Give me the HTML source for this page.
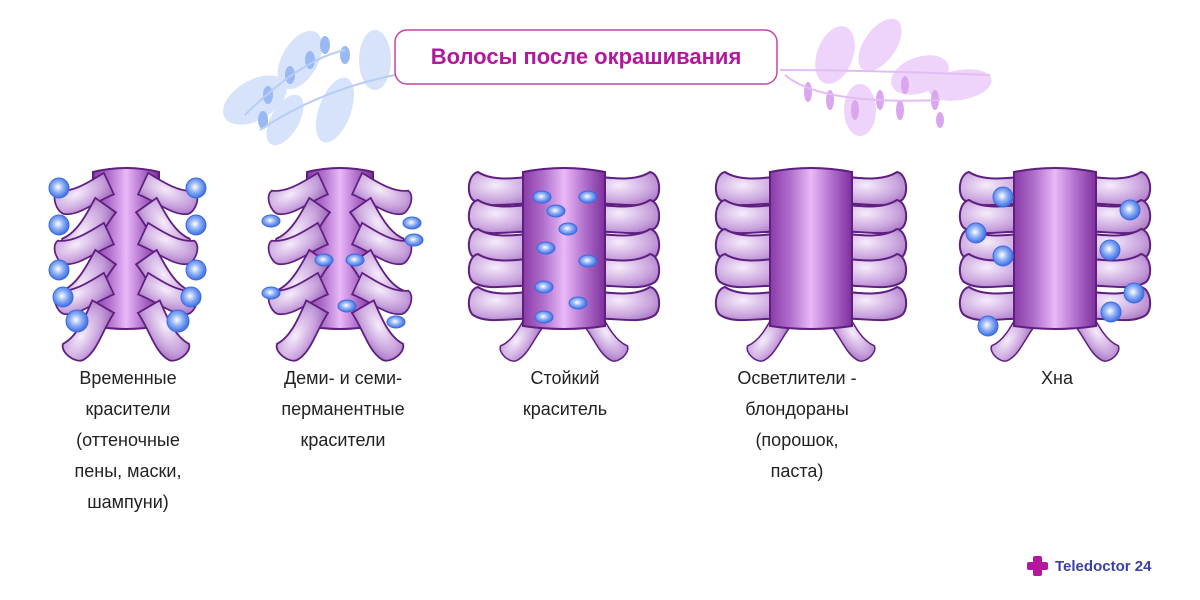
<!DOCTYPE html>
<html><head><meta charset="utf-8"><style>
body{margin:0;background:#fff;}
svg{display:block}
text{font-family:"Liberation Sans",sans-serif}
</style></head><body>
<svg width="1200" height="600" viewBox="0 0 1200 600" xmlns="http://www.w3.org/2000/svg">
<defs>
<linearGradient id="cyl" x1="0" x2="1" y1="0" y2="0">
<stop offset="0" stop-color="#8a3aa8"/><stop offset="0.25" stop-color="#b070cc"/><stop offset="0.5" stop-color="#eab8f8"/><stop offset="0.75" stop-color="#b070cc"/><stop offset="1" stop-color="#7e2f9c"/></linearGradient>
<radialGradient id="sc" cx="0.4" cy="0.4" r="0.8"><stop offset="0" stop-color="#f6ecfb"/><stop offset="0.6" stop-color="#c9a3dd"/><stop offset="1" stop-color="#9a66b8"/></radialGradient>
<radialGradient id="ball" cx="0.45" cy="0.45" r="0.6"><stop offset="0" stop-color="#ffffff"/><stop offset="0.45" stop-color="#8fb0f5"/><stop offset="1" stop-color="#2f63e0"/></radialGradient>
<path id="s" d="M8,-12 C-10,-10 -35,-6 -50,-16 C-60,-14 -62,6 -55,12 C-40,22 -15,14 8,16 Z" fill="url(#sc)" stroke="#5e1f80" stroke-width="2"/>
<path id="sr" d="M-8,-12 C10,-10 35,-6 50,-16 C60,-14 62,6 55,12 C40,22 15,14 -8,16 Z" fill="url(#sc)" stroke="#5e1f80" stroke-width="2"/>
<g id="cy"><path d="M-41,172 Q0,164 41,172 L41,326 Q0,332 -41,326 Z" fill="url(#cyl)" stroke="#5e1f80" stroke-width="2"/></g>
<g id="cyn"><path d="M-33,172 Q0,164 33,172 L33,326 Q0,332 -33,326 Z" fill="url(#cyl)" stroke="#5e1f80" stroke-width="2"/></g>
<g id="open">
<use href="#s" x="-36" y="188"/><use href="#s" x="-36" y="216"/><use href="#s" x="-36" y="245"/><use href="#s" x="-36" y="270"/><use href="#s" x="-36" y="303"/>
<use href="#s" transform="translate(-32,322) rotate(-55) scale(0.75)"/>
<use href="#sr" x="36" y="188"/><use href="#sr" x="36" y="216"/><use href="#sr" x="36" y="245"/><use href="#sr" x="36" y="270"/><use href="#sr" x="36" y="303"/>
<use href="#sr" transform="translate(32,322) rotate(55) scale(0.75)"/>
<use href="#cy"/>
</g>
<g id="closed">
<use href="#cyn"/>
<use href="#s" transform="translate(-24,185) rotate(-25) scale(0.85)"/><use href="#s" transform="translate(-26,210) rotate(-55) scale(0.9)"/>
<use href="#s" transform="translate(-24,235) rotate(-25) scale(0.85)"/><use href="#s" transform="translate(-26,262) rotate(-55) scale(0.9)"/>
<use href="#s" transform="translate(-24,285) rotate(-25) scale(0.85)"/><use href="#s" transform="translate(-28,312) rotate(-60) scale(0.9)"/>
<use href="#sr" transform="translate(24,185) rotate(25) scale(0.85)"/><use href="#sr" transform="translate(26,210) rotate(55) scale(0.9)"/>
<use href="#sr" transform="translate(24,235) rotate(25) scale(0.85)"/><use href="#sr" transform="translate(26,262) rotate(55) scale(0.9)"/>
<use href="#sr" transform="translate(24,285) rotate(25) scale(0.85)"/><use href="#sr" transform="translate(28,312) rotate(60) scale(0.9)"/>
</g>
</defs>

<g fill="#d6e3fb">
<ellipse cx="255" cy="100" rx="35" ry="20" transform="rotate(-30 255 100)"/>
<ellipse cx="300" cy="60" rx="32" ry="18" transform="rotate(-60 300 60)"/>
<ellipse cx="335" cy="110" rx="16" ry="34" transform="rotate(20 335 110)"/>
<ellipse cx="375" cy="60" rx="16" ry="30"/>
<ellipse cx="285" cy="120" rx="14" ry="28" transform="rotate(30 285 120)"/>
</g>
<g fill="#9ab8f2"><ellipse cx="268" cy="95" rx="5" ry="9"/><ellipse cx="290" cy="75" rx="5" ry="9"/><ellipse cx="310" cy="60" rx="5" ry="9"/><ellipse cx="325" cy="45" rx="5" ry="9"/><ellipse cx="345" cy="55" rx="5" ry="9"/><ellipse cx="263" cy="120" rx="5" ry="9"/></g>
<path d="M245,115 Q300,60 345,50 M260,130 Q320,90 395,75" stroke="#b8cdf6" stroke-width="2" fill="none"/>
<g fill="#eed4fb">
<ellipse cx="835" cy="55" rx="18" ry="30" transform="rotate(20 835 55)"/>
<ellipse cx="880" cy="45" rx="16" ry="30" transform="rotate(35 880 45)"/>
<ellipse cx="920" cy="75" rx="30" ry="18" transform="rotate(-20 920 75)"/>
<ellipse cx="960" cy="85" rx="32" ry="15" transform="rotate(-10 960 85)"/>
<ellipse cx="860" cy="110" rx="16" ry="26"/>
</g>
<g fill="#d9a6ef"><ellipse cx="808" cy="92" rx="4" ry="10"/><ellipse cx="830" cy="100" rx="4" ry="10"/><ellipse cx="855" cy="110" rx="4" ry="10"/><ellipse cx="880" cy="100" rx="4" ry="10"/><ellipse cx="900" cy="110" rx="4" ry="10"/><ellipse cx="935" cy="100" rx="4" ry="10"/><ellipse cx="940" cy="120" rx="4" ry="8"/><ellipse cx="905" cy="85" rx="4" ry="9"/></g>
<path d="M785,75 Q820,105 940,100 M780,70 Q860,70 990,75" stroke="#e3bcf5" stroke-width="2" fill="none"/>

<rect x="395" y="30" width="382" height="54" rx="12" fill="#fff" stroke="#c445a6" stroke-width="1.5"/>
<text x="586" y="64" text-anchor="middle" font-size="22" font-weight="bold" fill="#b3179c">Волосы после окрашивания</text>

<use href="#closed" transform="translate(126,0)"/>
<use href="#closed" transform="translate(340,0)"/>
<use href="#open" transform="translate(564,0)"/>
<use href="#open" transform="translate(811,0)"/>
<use href="#open" transform="translate(1055,0)"/>

<g fill="url(#ball)" stroke="#3a6ae0" stroke-width="1">
<circle cx="59" cy="188" r="10"/><circle cx="59" cy="225" r="10"/><circle cx="59" cy="270" r="10"/><circle cx="63" cy="297" r="10"/><circle cx="77" cy="321" r="11"/>
<circle cx="196" cy="188" r="10"/><circle cx="196" cy="225" r="10"/><circle cx="196" cy="270" r="10"/><circle cx="191" cy="297" r="10"/><circle cx="178" cy="321" r="11"/>
<ellipse cx="271" cy="221" rx="9" ry="6"/><ellipse cx="324" cy="260" rx="9" ry="6"/><ellipse cx="355" cy="260" rx="9" ry="6"/><ellipse cx="347" cy="306" rx="9" ry="6"/><ellipse cx="271" cy="293" rx="9" ry="6"/><ellipse cx="412" cy="223" rx="9" ry="6"/><ellipse cx="414" cy="240" rx="9" ry="6"/><ellipse cx="396" cy="322" rx="9" ry="6"/>
<ellipse cx="542" cy="197" rx="9" ry="6"/><ellipse cx="588" cy="197" rx="9" ry="6"/><ellipse cx="556" cy="211" rx="9" ry="6"/><ellipse cx="568" cy="229" rx="9" ry="6"/><ellipse cx="546" cy="248" rx="9" ry="6"/><ellipse cx="588" cy="261" rx="9" ry="6"/><ellipse cx="544" cy="287" rx="9" ry="6"/><ellipse cx="578" cy="303" rx="9" ry="6"/><ellipse cx="544" cy="317" rx="9" ry="6"/>
<circle cx="1003" cy="197" r="10"/><circle cx="976" cy="233" r="10"/><circle cx="1003" cy="256" r="10"/><circle cx="988" cy="326" r="10"/><circle cx="1130" cy="210" r="10"/><circle cx="1110" cy="250" r="10"/><circle cx="1134" cy="293" r="10"/><circle cx="1111" cy="312" r="10"/>
</g>

<g font-size="18" fill="#222" text-anchor="middle">
<text x="128" y="384">Временные</text><text x="128" y="415">красители</text><text x="128" y="446">(оттеночные</text><text x="128" y="477">пены, маски,</text><text x="128" y="508">шампуни)</text>
<text x="343" y="384">Деми- и семи-</text><text x="343" y="415">перманентные</text><text x="343" y="446">красители</text>
<text x="565" y="384">Стойкий</text><text x="565" y="415">краситель</text>
<text x="797" y="384">Осветлители -</text><text x="797" y="415">блондораны</text><text x="797" y="446">(порошок,</text><text x="797" y="477">паста)</text>
<text x="1057" y="384">Хна</text>
</g>

<g fill="#b3179c"><rect x="1033" y="556" width="9" height="20" rx="2"/><rect x="1027" y="562" width="21" height="8" rx="2"/></g>
<text x="1055" y="571" font-size="15" font-weight="bold" fill="#3b3fa8">Teledoctor 24</text>
</svg>
</body></html>
